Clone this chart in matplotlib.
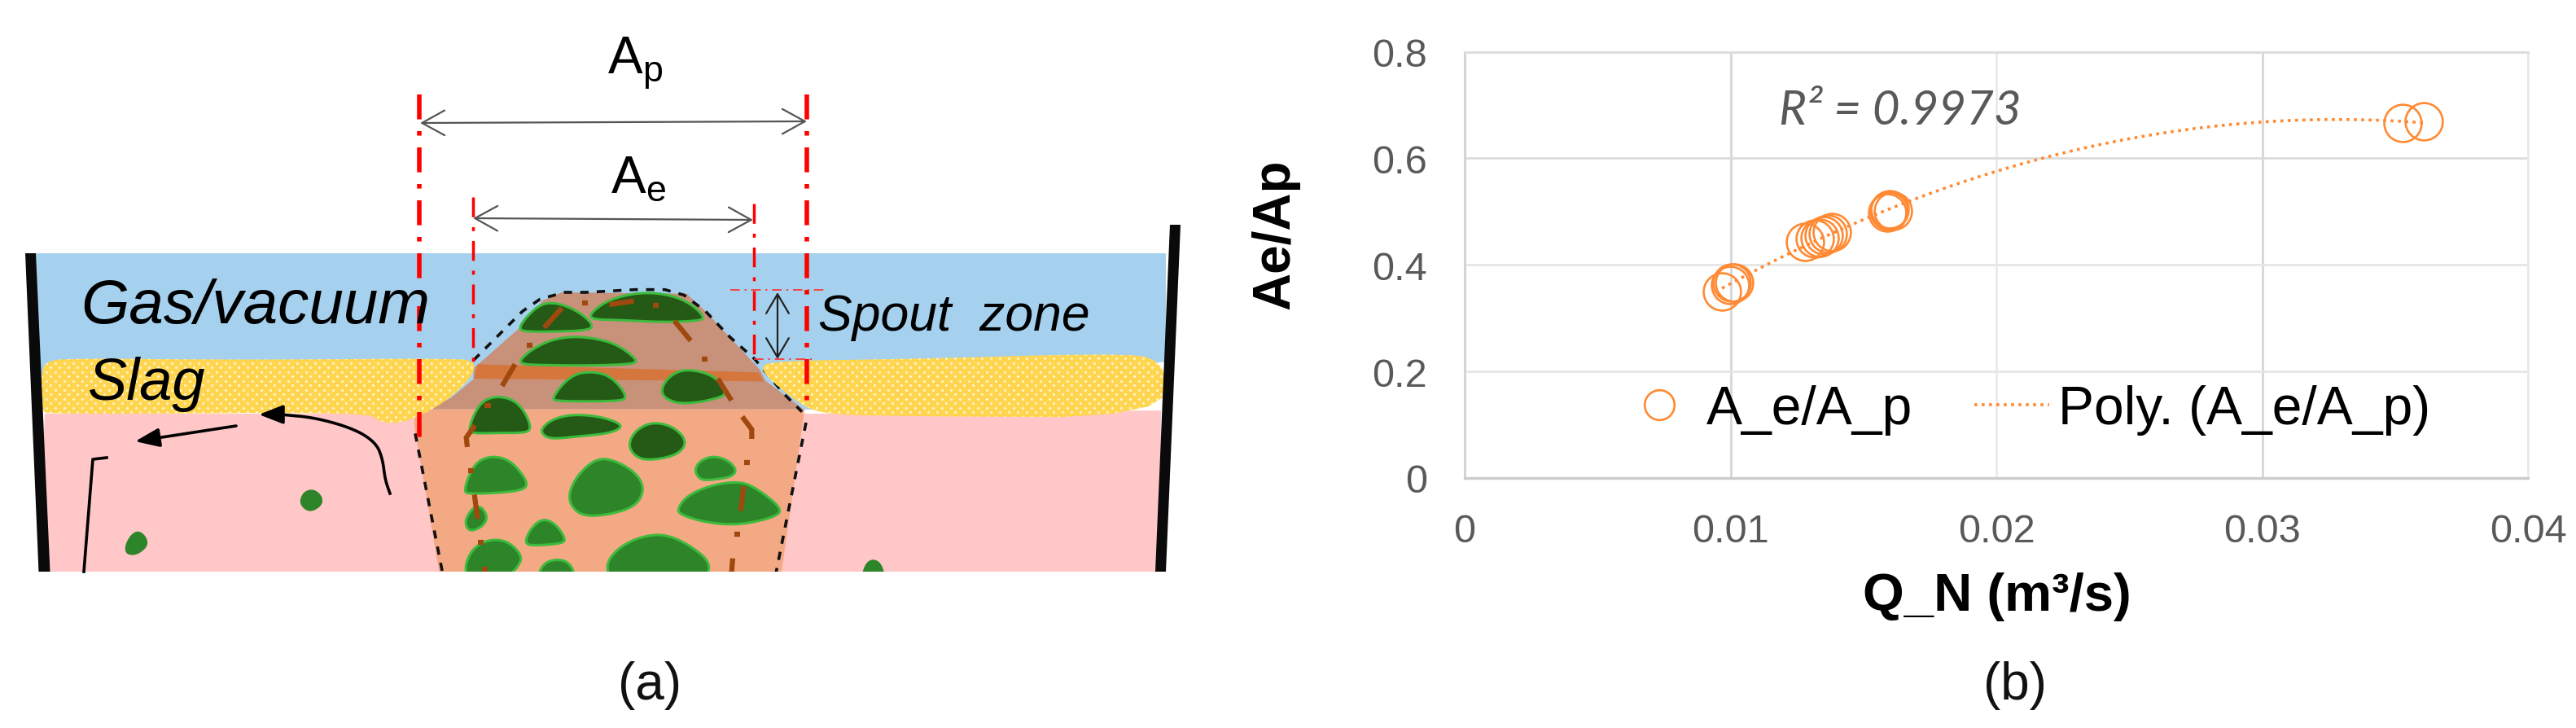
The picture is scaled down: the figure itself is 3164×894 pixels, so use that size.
import numpy as np
import matplotlib
matplotlib.use("Agg")
import matplotlib.pyplot as plt
from matplotlib.patches import Polygon, Rectangle

plt.rcParams['font.family'] = ['Liberation Sans', 'DejaVu Sans']
plt.rcParams['mathtext.fontset'] = 'custom'
plt.rcParams['mathtext.rm'] = 'Liberation Sans'
plt.rcParams['mathtext.default'] = 'rm'

# ---- chart data (panel b) ----
q_n = [.00968, .00998, .01005, .01014, .01279, .01316, .01336, .01351, .01366, .01381,
       .0159, .01595, .016, .0161, .03528, .03607]
ae_ap = [.350, .362, .366, .367, .443, .449, .451, .456, .458, .462,
         .498, .502, .504, .502, .666, .670]
x_ticks = [0, 0.01, 0.02, 0.03, 0.04]
x_labels = ['0', '0.01', '0.02', '0.03', '0.04']
y_ticks = [0, 0.2, 0.4, 0.6, 0.8]
y_labels = ['0', '0.2', '0.4', '0.6', '0.8']

# ---- schematic outlines (panel a), figure pixels ----
blue_poly = [(40, 312), (1432, 312), (1432, 445), (1000, 504), (40, 504)]
pink_poly = [(55, 509), (451, 509), (509, 509), (1000, 509), (1426, 505), (1425, 703), (47, 703)]
slag_left = [(51, 462), (55, 445), (85, 441), (300, 443), (560, 441), (584, 445), (580, 463),
             (553, 490), (520, 510), (490, 521), (465, 519), (451, 507), (63, 510), (50, 505)]
slag_right = [(931, 454), (949, 444), (1117, 442), (1362, 435), (1432, 441), (1432, 514),
              (1086, 512), (1005, 509), (974, 491)]
wall_left = [(31, 312), (44, 312), (61.5, 703), (47.5, 703)]
wall_right = [(1437, 277), (1450, 277), (1432, 703), (1419, 703)]

# zoomed-detail coordinates of the central column: px = 520 + u / 3, py = 340 + v / 3
orange_uv = [(-33, 490), (1405, 490), (1320, 1090), (58, 1090), (-33, 555)]
brown_uv = [(185, 340), (350, 195), (440, 90), (510, 60), (970, 65), (1040, 130), (1240, 345),
            (1260, 385), (1400, 490), (20, 490), (100, 450), (185, 380)]
band_uv = [(200, 325), (1235, 355), (1255, 388), (185, 378)]
dark_blobs = [
    [(350, 195), (380, 150), (430, 105), (480, 97), (540, 115), (590, 145), (625, 180), (610, 200), (480, 205), (380, 205)],
    [(610, 145), (660, 100), (740, 70), (830, 60), (920, 72), (990, 105), (1035, 150), (1020, 165), (880, 170), (720, 162), (630, 160)],
    [(355, 310), (400, 270), (470, 235), (550, 222), (640, 230), (720, 255), (790, 310), (770, 325), (600, 330), (440, 328), (365, 325)],
    [(475, 452), (510, 400), (560, 360), (620, 352), (680, 365), (725, 405), (750, 450), (720, 460), (600, 462), (490, 460)],
    [(875, 420), (900, 375), (950, 345), (1020, 350), (1080, 375), (1115, 430), (1100, 445), (1020, 465), (940, 470), (890, 450)],
    [(165, 570), (190, 500), (225, 455), (280, 442), (340, 460), (380, 510), (398, 565), (370, 578), (280, 578), (190, 580)],
    [(432, 565), (470, 530), (540, 510), (640, 515), (720, 540), (730, 560), (680, 580), (580, 590), (480, 600), (445, 590)],
    [(755, 620), (780, 570), (840, 538), (910, 550), (960, 590), (965, 630), (920, 665), (820, 680), (775, 660)],
]
mid_blobs = [
    [(150, 795), (165, 740), (200, 680), (260, 662), (320, 680), (365, 730), (385, 770), (360, 790), (260, 800), (170, 802)],
    [(535, 800), (570, 730), (640, 670), (710, 680), (790, 730), (815, 790), (780, 850), (680, 880), (590, 885), (545, 850)],
    [(998, 715), (1020, 680), (1070, 662), (1125, 680), (1155, 715), (1135, 740), (1070, 750), (1020, 752)],
    [(935, 860), (970, 810), (1060, 770), (1170, 755), (1240, 790), (1325, 860), (1290, 890), (1160, 918), (1040, 908), (950, 880)],
    [(155, 895), (185, 850), (215, 850), (238, 890), (215, 925), (175, 940), (158, 925)],
    [(370, 990), (395, 930), (440, 892), (490, 915), (525, 970), (510, 985), (430, 992)],
    [(152, 1070), (180, 1005), (240, 970), (310, 975), (365, 1030), (350, 1070), (300, 1120), (165, 1120)],
    [(418, 1120), (440, 1060), (490, 1042), (540, 1055), (565, 1120)],
    [(672, 1060), (720, 1000), (800, 960), (890, 950), (980, 990), (1060, 1055), (1040, 1120), (690, 1120)],
]
small_blobs = [
    [(367, 620), (372, 605), (385, 601), (396, 610), (396, 622), (380, 631)],
    [(153, 672), (160, 658), (170, 652), (180, 660), (182, 672), (168, 683), (155, 682)],
    [(1057, 712), (1063, 692), (1073, 687), (1083, 693), (1088, 712)],
]
brown_dash_uv = [
    [(445, 190), (510, 118)], [(585, 100), (605, 100)], [(685, 105), (775, 92)], [(845, 108), (867, 108)],
    [(925, 165), (985, 238)], [(1025, 307), (1047, 307)], [(1085, 378), (1135, 458)],
    [(1175, 518), (1210, 565), (1210, 600)], [(1182, 687), (1204, 687)], [(1180, 775), (1170, 865)],
    [(1145, 950), (1167, 950)], [(1140, 1040), (1135, 1100)],
    [(380, 255), (401, 255)], [(338, 325), (290, 405)], [(226, 477), (248, 477)],
    [(190, 550), (158, 595), (162, 630)], [(164, 717), (186, 717)], [(188, 805), (200, 895)],
    [(201, 982), (223, 982)], [(215, 1080), (237, 1080)],
]
black_dash_top_uv = [(185, 310), (240, 255), (300, 195), (365, 130), (430, 85), (520, 60), (600, 60),
                     (780, 50), (890, 50), (960, 70), (1040, 130), (1130, 225), (1220, 305), (1330, 435), (1395, 500)]
black_dash_right_uv = [(1410, 540), (1300, 1090)]
black_dash_left_uv = [(-30, 580), (70, 1090)]
flow_curve = [(479, 607), (473, 590), (470, 565), (462, 545), (436, 528), (388, 514), (345, 510)]
flow_corner = [(131, 563), (114, 565), (103, 703)]


def uv(points):
    return [(520 + u / 3, 340 + v / 3) for u, v in points]


def smooth(points, rounds=3):
    p = np.array(points, float)
    for _ in range(rounds):
        nxt = np.roll(p, -1, axis=0)
        p = np.column_stack([0.75 * p + 0.25 * nxt, 0.25 * p + 0.75 * nxt]).reshape(-1, 2)
    return p


def smooth_open(points, rounds=3):
    p = np.array(points, float)
    for _ in range(rounds):
        a, b = p[:-1], p[1:]
        mid = np.column_stack([0.75 * a + 0.25 * b, 0.25 * a + 0.75 * b]).reshape(-1, 2)
        p = np.vstack([p[0], mid, p[-1]])
    return p


W, H = 3164, 895
fig = plt.figure(figsize=(W / 100, H / 100), dpi=100, facecolor='white')
a0 = fig.add_axes([0, 0, 1, 1])
a0.set_xlim(0, W)
a0.set_ylim(H, 0)
a0.axis('off')

a0.add_patch(Polygon(blue_poly, fc='#A6D1EE', ec='none', zorder=1))
a0.add_patch(Polygon(pink_poly, fc='#FFC7C7', ec='none', zorder=1))
a0.add_patch(Polygon(uv(orange_uv), fc='#F4A985', ec='none', zorder=2))
a0.add_patch(Polygon(uv(brown_uv), fc='#C8917A', ec='none', zorder=2.1))
a0.add_patch(Polygon(uv(band_uv), fc='#D5763D', ec='none', zorder=2.2))
for blob in dark_blobs:
    a0.add_patch(Polygon(smooth(uv(blob)), fc='#245A16', ec='#3DBB3D', lw=2.2, zorder=3))
for blob in mid_blobs:
    a0.add_patch(Polygon(smooth(uv(blob)), fc='#2E8429', ec='#3DBB3D', lw=2.2, zorder=3))
for blob in small_blobs:
    a0.add_patch(Polygon(smooth(blob), fc='#2E8429', ec='none', zorder=3))

for seg in brown_dash_uv:
    xy = np.array(uv(seg))
    a0.plot(xy[:, 0], xy[:, 1], color='#A0490E', lw=4.5, solid_capstyle='butt', solid_joinstyle='miter', zorder=4)

dash = (0, (2.8, 2.8))
for seg in (black_dash_top_uv, black_dash_right_uv, black_dash_left_uv):
    xy = np.array(uv(seg))
    a0.plot(xy[:, 0], xy[:, 1], color='#111111', lw=2.6, ls=dash, zorder=4)

# slag: yellow body with a staggered pattern of small white dots, clipped to the body
gx, gy = np.meshgrid(np.arange(40, 1440, 11.0), np.arange(430, 525, 5.5))
gx = gx + (np.round((gy - 430) / 5.5) % 2) * 5.5
for poly in (slag_left, slag_right):
    patch = Polygon(smooth(poly, 2), fc='#FFD54F', ec='none', zorder=4.5)
    a0.add_patch(patch)
    dots = a0.scatter(gx.ravel(), gy.ravel(), s=5.5, c='#FFF3C4', linewidths=0, zorder=4.6)
    dots.set_clip_path(patch)

a0.add_patch(Polygon(wall_left, fc='#0A0A0A', ec='none', zorder=6))
a0.add_patch(Polygon(wall_right, fc='#0A0A0A', ec='none', zorder=6))
a0.add_patch(Rectangle((0, 703), 1500, 192, fc='white', ec='none', zorder=5))

# red dash-dot guides
ddot = (0, (7, 3.5, 1.4, 3.5))
a0.plot([515, 515], [117, 539], color='#FF0000', lw=4, ls=(0, (5.5, 2.6, 1.0, 2.6)), zorder=7)
a0.plot([991, 991], [117, 504], color='#FF0000', lw=4, ls=(0, (5.5, 2.6, 1.0, 2.6)), zorder=7)
a0.plot([581, 581], [243, 451], color='#FF0000', lw=2.5, ls=ddot, zorder=7)
a0.plot([926, 926], [251, 442], color='#FF0000', lw=2.5, ls=ddot, zorder=7)
a0.plot([897, 1015], [357, 357], color='#FF3030', lw=1.2, ls=ddot, zorder=7)
a0.plot([926, 1000], [442, 442], color='#FF3030', lw=1.2, ls=ddot, zorder=7)


def arrow(xy_from, xy_to, style, color, lw, z=8):
    a0.annotate('', xy=xy_to, xytext=xy_from, zorder=z,
                arrowprops=dict(arrowstyle=style, color=color, lw=lw, mutation_scale=1,
                                shrinkA=0, shrinkB=0))


arrow((516, 152), (991, 150), '<->,head_length=20,head_width=11', '#555555', 1.6)
arrow((581, 269), (925, 271), '<->,head_length=20,head_width=11', '#555555', 1.6)
arrow((955, 360), (955, 442), '<->,head_length=17,head_width=10', '#222222', 1.6)

# black flow arrows
curve = smooth_open(flow_curve)
a0.plot(curve[:, 0], curve[:, 1], color='black', lw=2.6, zorder=8)
arrow((345, 510), (318, 510), '-|>,head_length=18,head_width=7', 'black', 2.6)
arrow((290, 524), (166, 543), '-|>,head_length=18,head_width=7', 'black', 2.6)
corner = np.array(flow_corner)
a0.plot(corner[:, 0], corner[:, 1], color='black', lw=2.6, zorder=8)

# schematic labels
a0.text(99, 397, 'Gas/vacuum', style='italic', fontsize=55, va='baseline', color='black', zorder=9)
a0.text(108, 491, 'Slag', style='italic', fontsize=52, va='baseline', color='black', zorder=9)
a0.text(1005, 406, 'Spout  zone', style='italic', fontsize=45, va='baseline', color='black', zorder=9)
a0.text(746, 91, r'A$_{\mathrm{p}}$', fontsize=46, va='baseline', color='black', zorder=9)
a0.text(750, 237, r'A$_{\mathrm{e}}$', fontsize=46, va='baseline', color='black', zorder=9)
a0.text(798, 859, '(a)', fontsize=46, va='baseline', ha='center', color='#111111', zorder=9)
a0.text(2475, 859, '(b)', fontsize=46, va='baseline', ha='center', color='#111111', zorder=9)

# ---- panel b ----
L, R, T, B = 1799, 3105, 64.5, 588
ax = fig.add_axes([L / W, 1 - B / H, (R - L) / W, (B - T) / H])
ax.patch.set_alpha(0)
ax.set_xlim(0, 0.04)
ax.set_ylim(0, 0.8)
ax.set_xticks(x_ticks, x_labels)
ax.set_yticks(y_ticks, y_labels)
ax.tick_params(length=0, labelsize=35, labelcolor='#595959')
ax.tick_params(axis='x', pad=31)
ax.tick_params(axis='y', pad=33)
ax.grid(True, color='#D9D9D9', lw=2.0)
for line, c in zip(ax.get_xgridlines(), ['#D9D9D9', '#D6D6D6', '#EAEAEA', '#D6D6D6', '#EAEAEA']):
    line.set_color(c)
for line, c in zip(ax.get_ygridlines(), ['#D9D9D9', '#E6E6E6', '#E6E6E6', '#DCDCDC', '#DCDCDC']):
    line.set_color(c)
ax.set_axisbelow(True)
for side, c, w in (('left', '#D4D4D4', 2.2), ('bottom', '#CCCCCC', 2.4), ('top', '#DCDCDC', 2.2), ('right', '#EAEAEA', 2)):
    ax.spines[side].set_color(c)
    ax.spines[side].set_linewidth(w)

orange = '#FF8A33'
ax.plot(q_n, ae_ap, 'o', mfc='none', mec=orange, mew=1.9, ms=33, label='A_e/A_p', clip_on=False)
coef = np.polyfit(q_n, ae_ap, 2)
qs = np.linspace(min(q_n), max(q_n), 200)
ax.plot(qs, np.polyval(coef, qs), color=orange, lw=2.6, ls=(0, (1, 1.5)), label='Poly. (A_e/A_p)')
ax.text(0.01182, 0.665, 'R² = 0.9973', family='Lato', style='italic', fontsize=42, color='#595959', va='baseline')

ax.set_xlabel('Q_N (m³/s)', fontsize=47, fontweight='bold', color='black', va='baseline')
ax.xaxis.set_label_coords(2453, 750, transform=a0.transData)
ax.set_ylabel('Ae/Ap', fontsize=46, fontweight='bold', color='black', va='baseline')
ax.yaxis.set_label_coords(1583, 288, transform=a0.transData)

ax.legend(loc='lower left', bbox_to_anchor=(1992, 535), bbox_transform=a0.transData, frameon=False,
          fontsize=47.5, markerscale=0.8, ncol=2, borderpad=0, borderaxespad=0,
          handlelength=1.4, handletextpad=0.17, columnspacing=1.15, labelcolor='black')

fig.savefig('out.png', dpi=100)
